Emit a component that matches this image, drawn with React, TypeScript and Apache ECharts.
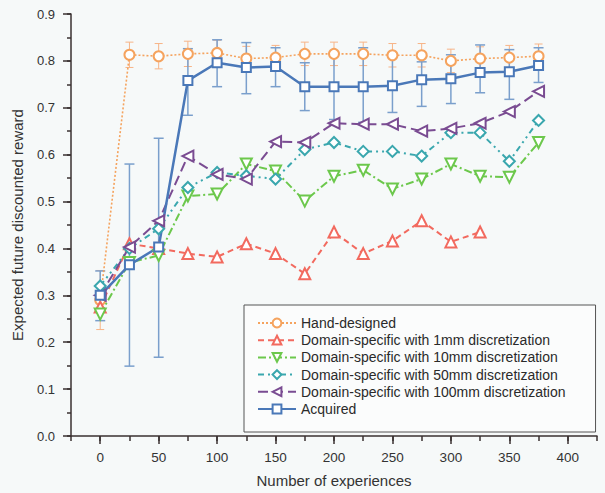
import React, { useEffect, useRef } from "react";
import * as echarts from "echarts";

const experiences = [0, 25, 50, 75, 100, 125, 150, 175, 200, 225, 250, 275, 300, 325, 350, 375];
const xLabelTicks = [0, 50, 100, 150, 200, 250, 300, 350, 400];
const yLabelTicks = [0, 0.1, 0.2, 0.3, 0.4, 0.5, 0.6, 0.7, 0.8, 0.9];

const handDesigned = [0.29, 0.813, 0.81, 0.815, 0.817, 0.805, 0.807, 0.815, 0.815, 0.815, 0.812, 0.812, 0.8, 0.805, 0.807, 0.81];
const handErr = [0.063, 0.027, 0.027, 0.027, 0.027, 0.026, 0.026, 0.025, 0.025, 0.025, 0.025, 0.025, 0.025, 0.025, 0.026, 0.026];

const dom1mm = [0.275, 0.41, 0.4, 0.389, 0.382, 0.41, 0.389, 0.346, 0.435, 0.389, 0.416, 0.459, 0.414, 0.435];
const dom10mm = [0.26, 0.37, 0.385, 0.512, 0.516, 0.58, 0.565, 0.501, 0.554, 0.567, 0.527, 0.548, 0.58, 0.554, 0.552, 0.626];
const dom50mm = [0.32, 0.4, 0.442, 0.53, 0.562, 0.555, 0.548, 0.611, 0.626, 0.607, 0.607, 0.597, 0.647, 0.647, 0.586, 0.673];
const dom100mm = [0.3, 0.403, 0.459, 0.597, 0.558, 0.548, 0.628, 0.626, 0.667, 0.665, 0.665, 0.65, 0.656, 0.667, 0.692, 0.735];

const acquired = [0.3, 0.365, 0.403, 0.758, 0.796, 0.786, 0.788, 0.745, 0.745, 0.745, 0.747, 0.76, 0.762, 0.775, 0.777, 0.79];
const acquiredLow = [0.246, 0.149, 0.168, 0.684, 0.745, 0.73, 0.745, 0.694, 0.675, 0.669, 0.69, 0.703, 0.709, 0.732, 0.718, 0.754];
const acquiredHigh = [0.352, 0.58, 0.635, 0.826, 0.845, 0.839, 0.828, 0.796, 0.81, 0.828, 0.813, 0.798, 0.813, 0.834, 0.824, 0.828];

const names = [
  "Hand-designed",
  "Domain-specific with 1mm discretization",
  "Domain-specific with 10mm discretization",
  "Domain-specific with 50mm discretization",
  "Domain-specific with 100mm discretization",
  "Acquired",
];

const FONT = "Liberation Sans, Arial, sans-serif";
const AXIS_C = "#3a3030";
const C_ORANGE = "#f5a35e";
const C_RED = "#f26a5f";
const C_GREEN = "#6cc84c";
const C_TEAL = "#3aa7ae";
const C_PURPLE = "#7a4c92";
const C_BLUE = "#4a78b8";

function pairs(vals: number[]) {
  return vals.map((v, i) => [experiences[i], v]);
}

function errorSeries(rows: number[][], color: string, width: number, cap: number) {
  return {
    type: "custom",
    xAxisIndex: 0,
    yAxisIndex: 0,
    silent: true,
    z: 1,
    data: rows,
    encode: { x: 0, y: [1, 2] },
    renderItem: (params: any, api: any) => {
      const x = api.value(0);
      const lo = api.coord([x, api.value(1)]);
      const hi = api.coord([x, api.value(2)]);
      const st = { stroke: color, lineWidth: width };
      return {
        type: "group",
        children: [
          { type: "line", shape: { x1: lo[0], y1: lo[1], x2: hi[0], y2: hi[1] }, style: st },
          { type: "line", shape: { x1: lo[0] - cap, y1: lo[1], x2: lo[0] + cap, y2: lo[1] }, style: st },
          { type: "line", shape: { x1: hi[0] - cap, y1: hi[1], x2: hi[0] + cap, y2: hi[1] }, style: st },
        ],
      };
    },
  };
}

export default function App() {
  const ref = useRef<HTMLDivElement>(null);
  useEffect(() => {
    if (!ref.current) return;
    const chart = echarts.init(ref.current, null, { renderer: "svg" });
    const handRows = handDesigned.map((v, i) => [experiences[i], v - handErr[i], v + handErr[i]]);
    const blueRows = acquired.map((v, i) => [experiences[i], acquiredLow[i], acquiredHigh[i]]);
    const lineBase = (name: string, vals: number[], color: string, ltype: any, width: number, symbol: string, rot: number, size: number) => ({
      name,
      type: "line",
      xAxisIndex: 0,
      yAxisIndex: 0,
      data: pairs(vals),
      symbol,
      symbolRotate: rot,
      symbolSize: size,
      showAllSymbol: true,
      z: 3,
      lineStyle: { color, type: ltype, width },
      itemStyle: { color, borderColor: color, borderWidth: 1.3 },
    });
    chart.setOption({
      animation: false,
      backgroundColor: "#f6f9f9",
      textStyle: { fontFamily: FONT },
      grid: { left: 71, right: 8, top: 14, bottom: 56 },
      xAxis: [
        {
          type: "value",
          min: -25,
          max: 425,
          interval: 25,
          name: "Number of experiences",
          nameLocation: "middle",
          nameGap: 37,
          nameTextStyle: { fontSize: 15, color: "#333", fontFamily: FONT },
          axisLine: { show: true, onZero: false, lineStyle: { color: AXIS_C, width: 1.5 } },
          axisTick: { show: true, length: 5, lineStyle: { color: AXIS_C, width: 1.5 } },
          axisLabel: { customValues: xLabelTicks, margin: 14, fontSize: 13.5, color: "#333", fontFamily: FONT },
          splitLine: { show: false },
        },
        {
          type: "value",
          min: -25,
          max: 425,
          interval: 50,
          position: "bottom",
          axisLine: { show: false, onZero: false },
          axisTick: { show: true, length: 8, customValues: xLabelTicks, lineStyle: { color: AXIS_C, width: 1.5 } },
          axisLabel: { show: false },
          splitLine: { show: false },
        },
      ],
      yAxis: [
        {
          type: "value",
          min: 0,
          max: 0.9,
          interval: 0.05,
          position: "left",
          name: "Expected future discounted reward",
          nameLocation: "middle",
          nameGap: 46,
          nameTextStyle: { fontSize: 15, color: "#333", fontFamily: FONT },
          axisLine: { show: true, onZero: false, lineStyle: { color: AXIS_C, width: 1.5 } },
          axisTick: { show: true, length: 4, lineStyle: { color: AXIS_C, width: 1.5 } },
          axisLabel: {
            customValues: yLabelTicks,
            margin: 16,
            fontSize: 13,
            color: "#333",
            fontFamily: FONT,
            formatter: (v: number) => v.toFixed(1),
          },
          splitLine: { show: false },
        },
        {
          type: "value",
          min: 0,
          max: 0.9,
          interval: 0.1,
          position: "left",
          axisLine: { show: false, onZero: false },
          axisTick: { show: true, length: 8, customValues: yLabelTicks, lineStyle: { color: AXIS_C, width: 1.5 } },
          axisLabel: { show: false },
          splitLine: { show: false },
        },
      ],
      legend: {
        data: names,
        orient: "vertical",
        left: 244,
        top: 305,
        padding: [11, 30, 16, 13],
        itemWidth: 38,
        itemHeight: 11,
        itemGap: 3.2,
        backgroundColor: "#fbfcfc",
        borderColor: "#555",
        borderWidth: 1,
        textStyle: { fontSize: 14, color: "#2a2a2a", fontFamily: FONT },
      },
      series: [
        errorSeries(handRows, "#f7b487", 1, 4),
        errorSeries(blueRows, "#7a9fcc", 1.5, 5),
        lineBase(names[0], handDesigned, C_ORANGE, [2, 2], 1.6, "emptyCircle", 0, 10),
        lineBase(names[1], dom1mm, C_RED, [6, 4], 2, "emptyTriangle", 0, 11),
        lineBase(names[2], dom10mm, C_GREEN, [8, 3, 2, 3], 2, "emptyTriangle", 180, 11),
        lineBase(names[3], dom50mm, C_TEAL, [6, 4, 2, 4, 2, 4], 2, "emptyDiamond", 0, 11),
        lineBase(names[4], dom100mm, C_PURPLE, [10, 5], 2, "emptyTriangle", 90, 11),
        lineBase(names[5], acquired, C_BLUE, "solid", 2.5, "emptyRect", 0, 9),
      ],
    });
    return () => chart.dispose();
  }, []);
  return <div ref={ref} style={{ position: "absolute", left: 0, top: 0, width: 605, height: 493 }} />;
}
